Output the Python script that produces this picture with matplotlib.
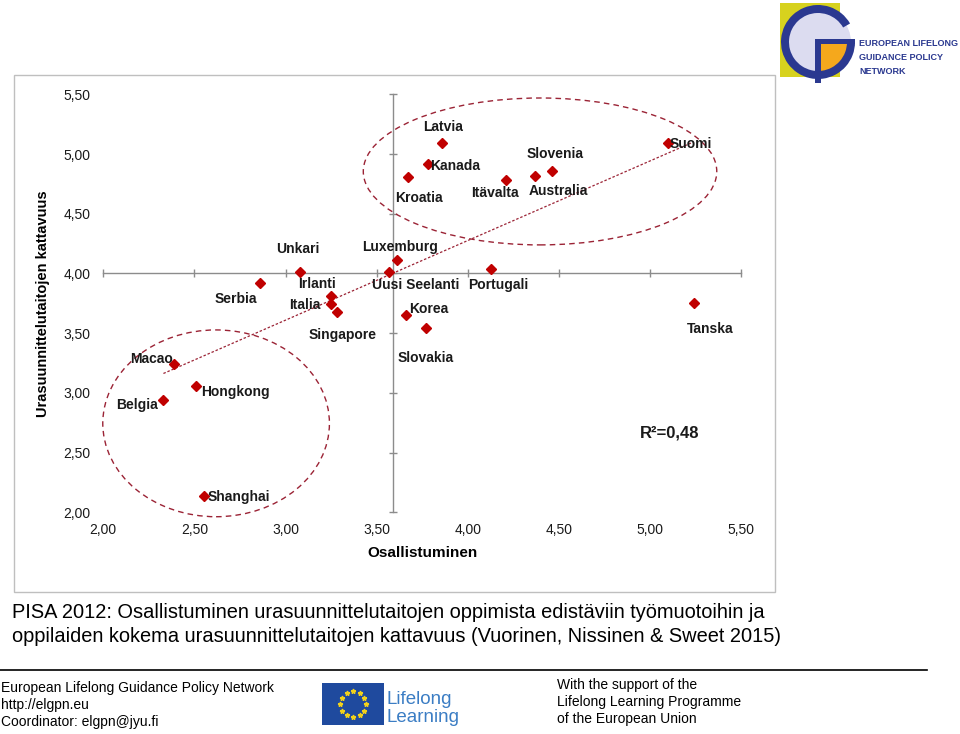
import numpy as np
import matplotlib
matplotlib.use("Agg")
import matplotlib.pyplot as plt
from matplotlib.patches import Ellipse, Rectangle, Circle, Wedge
from matplotlib.lines import Line2D
from matplotlib.ticker import FuncFormatter

# PISA 2012, values
maat = ["Belgia", "Macao", "Hongkong", "Shanghai", "Serbia", "Unkari", "Irlanti",
        "Italia", "Singapore", "Uusi Seelanti", "Luxemburg", "Korea", "Kroatia",
        "Slovakia", "Kanada", "Latvia", "Portugali", "Itävalta", "Slovenia",
        "Australia", "Suomi", "Tanska"]
osallistuminen = [2.33, 2.39, 2.51, 2.55, 2.86, 3.08, 3.25, 3.25, 3.28, 3.57, 3.61,
                  3.66, 3.67, 3.77, 3.78, 3.86, 4.13, 4.21, 4.46, 4.37, 5.10, 5.24]
kattavuus = [2.94, 3.24, 3.06, 2.14, 3.92, 4.01, 3.81, 3.74, 3.68, 4.01, 4.11,
             3.65, 4.81, 3.54, 4.92, 5.09, 4.04, 4.78, 4.86, 4.82, 5.09, 3.75]
akseli_ticks = [2.0, 2.5, 3.0, 3.5, 4.0, 4.5, 5.0, 5.5]
r2_teksti = "R²=0,48"

# label offsets in pixels (layout only)
offsets = {
    "Belgia": (-26, -5), "Macao": (-23, 5), "Hongkong": (39, -6), "Shanghai": (35, -1),
    "Serbia": (-24, -16), "Unkari": (-2, 23), "Irlanti": (-14, 12), "Italia": (-26, -1),
    "Singapore": (6, -23), "Uusi Seelanti": (26, -13), "Luxemburg": (3, 13),
    "Korea": (23, 6), "Kroatia": (11, -21), "Slovakia": (0, -30), "Kanada": (28, -2),
    "Latvia": (1, 16), "Portugali": (7, -16), "Itävalta": (-11, -13),
    "Slovenia": (4, 17), "Australia": (23, -15), "Suomi": (23, -1), "Tanska": (17, -26),
}

plt.rcParams["font.family"] = ["Liberation Sans", "DejaVu Sans"]

W, H = 960, 734
def fx(x):
    return x / W
def fy(y):
    return 1 - y / H

fig = plt.figure(figsize=(9.6, 7.34), dpi=100)

# chart frame
fig.add_artist(Rectangle((fx(14), fy(592)), fx(775 - 14), (592 - 75) / H,
                         transform=fig.transFigure, fill=False, ec="#bfbfbf", lw=1))

rect = [fx(103.3), fy(512.3), 637.7 / W, 418 / H]
ax = fig.add_axes(rect)
ax.set_xlim(2, 5.5)
ax.set_ylim(2, 5.5)
ax.patch.set_alpha(0)

x = np.array(osallistuminen)
y = np.array(kattavuus)

# axes cross at the means, as in the excel chart
for s in ["top", "right"]:
    ax.spines[s].set_visible(False)
ax.spines["bottom"].set_position(("data", y.mean()))
ax.spines["left"].set_position(("data", x.mean()))
for s in ["bottom", "left"]:
    ax.spines[s].set_color("#8c8c8c")
    ax.spines[s].set_linewidth(1)
ax.set_xticks(akseli_ticks)
ax.set_yticks(akseli_ticks)
ax.tick_params(direction="inout", length=6, width=1, color="#8c8c8c",
               labelbottom=False, labelleft=False)

# labels at "low" position
fmt = FuncFormatter(lambda v, p: f"{v:.2f}".replace(".", ","))
axl = fig.add_axes(rect, frameon=False)
axl.set_xlim(2, 5.5)
axl.set_ylim(2, 5.5)
axl.set_xticks(akseli_ticks)
axl.set_yticks(akseli_ticks)
axl.xaxis.set_major_formatter(fmt)
axl.yaxis.set_major_formatter(fmt)
axl.tick_params(length=0, labelsize=10, labelcolor="#1a1a1a")
axl.tick_params(axis="x", pad=8)
axl.tick_params(axis="y", pad=9)
axl.set_xlabel("Osallistuminen", fontsize=11, fontweight="bold", labelpad=6)
axl.set_ylabel("Urasuunnittelutaitojen kattavuus", fontsize=10.5, fontweight="bold",
               labelpad=10)
axl.set_zorder(-1)

# trend line
k, b = np.polyfit(x, y, 1)
xt = np.array([x.min(), x.max()])
ax.plot(xt, k * xt + b, ls=(0, (2, 1.5)), color="#9b2335", lw=0.9, zorder=2)

# circled groups
for c, w, h in [((2.619, 2.745), 1.244, 1.564), ((4.397, 4.854), 1.94, 1.23)]:
    ax.add_patch(Ellipse(c, w, h, fill=False, ec="#9b2335", lw=1,
                         ls=(0, (4, 3)), clip_on=False, zorder=2))

ax.plot(x, y, ls="none", marker="D", ms=5.3, color="#c00000", zorder=3, clip_on=False)

for n, xi, yi in zip(maat, x, y):
    ax.annotate(n, (xi, yi), xytext=offsets[n], textcoords="offset pixels",
                ha="center", va="center", fontsize=10, fontweight="bold",
                color="#1a1a1a", zorder=4)

ax.text(fx(669.5), fy(433), r2_teksti, transform=fig.transFigure, ha="center",
        va="center", fontsize=12, fontweight="bold", color="#1a1a1a")

# caption
fig.text(fx(12), fy(613), "PISA 2012: Osallistuminen urasuunnittelutaitojen oppimista "
         "edistäviin työmuotoihin ja", fontsize=14.4, va="center", ha="left", color="black")
fig.text(fx(12), fy(637), "oppilaiden kokema urasuunnittelutaitojen kattavuus "
         "(Vuorinen, Nissinen & Sweet 2015)", fontsize=14.4, va="center", ha="left",
         color="black")

# footer
fig.add_artist(Line2D([0, fx(927)], [fy(670), fy(670)], color="black", lw=1.2))
for i, t in enumerate(["European Lifelong Guidance Policy Network", "http://elgpn.eu",
                       "Coordinator: elgpn@jyu.fi"]):
    fig.text(fx(1), fy(688 + 17 * i), t, fontsize=10, va="center", ha="left")
for i, t in enumerate(["With the support of the", "Lifelong Learning Programme",
                       "of the European Union"]):
    fig.text(fx(557), fy(685 + 17 * i), t, fontsize=10, va="center", ha="left")

# lifelong learning logo
fig.add_artist(Rectangle((fx(322), fy(725)), 62 / W, 42 / H, transform=fig.transFigure,
                         color="#1f4a9e", lw=0))
ang = np.linspace(0, 2 * np.pi, 13)[:-1]
fig.add_artist(Line2D(fx(353 + 13 * np.cos(ang)), fy(704 + 13 * np.sin(ang)),
                      ls="none", marker="*", ms=3.5, color="#f2d21b",
                      transform=fig.transFigure))
fig.text(fx(387), fy(700), "Lifelong", fontsize=13.5, color="#3b7dc4", va="center")
fig.text(fx(387), fy(717), "Learning", fontsize=13.5, color="#3b7dc4", va="center")

# elgpn logo
logo = fig.add_axes([fx(778), fy(85), 80 / W, 85 / H])
logo.set_xlim(778, 858)
logo.set_ylim(85, 0)
logo.set_aspect("equal")
logo.axis("off")
logo.add_patch(Rectangle((780, 3), 60, 74, color="#d7d21e", lw=0))
logo.add_patch(Circle((818, 42), 33, color="#dcdcf0", lw=0))
logo.add_patch(Wedge((818, 42), 30, 0, 90, color="#f5a81c", lw=0))
logo.add_patch(Wedge((818, 42), 37, 0, 330, width=8, color="#2b3990", lw=0))
logo.add_patch(Rectangle((818, 39), 37, 5, color="#2b3990", lw=0))
logo.add_patch(Rectangle((815, 39), 6, 44, color="#2b3990", lw=0))
for i, t in enumerate(["EUROPEAN LIFELONG", "GUIDANCE POLICY", "NETWORK"]):
    fig.text(fx(859), fy(43 + 14 * i), t, fontsize=6.5, fontweight="bold",
             color="#2b3990", va="center", ha="left")

fig.savefig("out.png", dpi=100)
